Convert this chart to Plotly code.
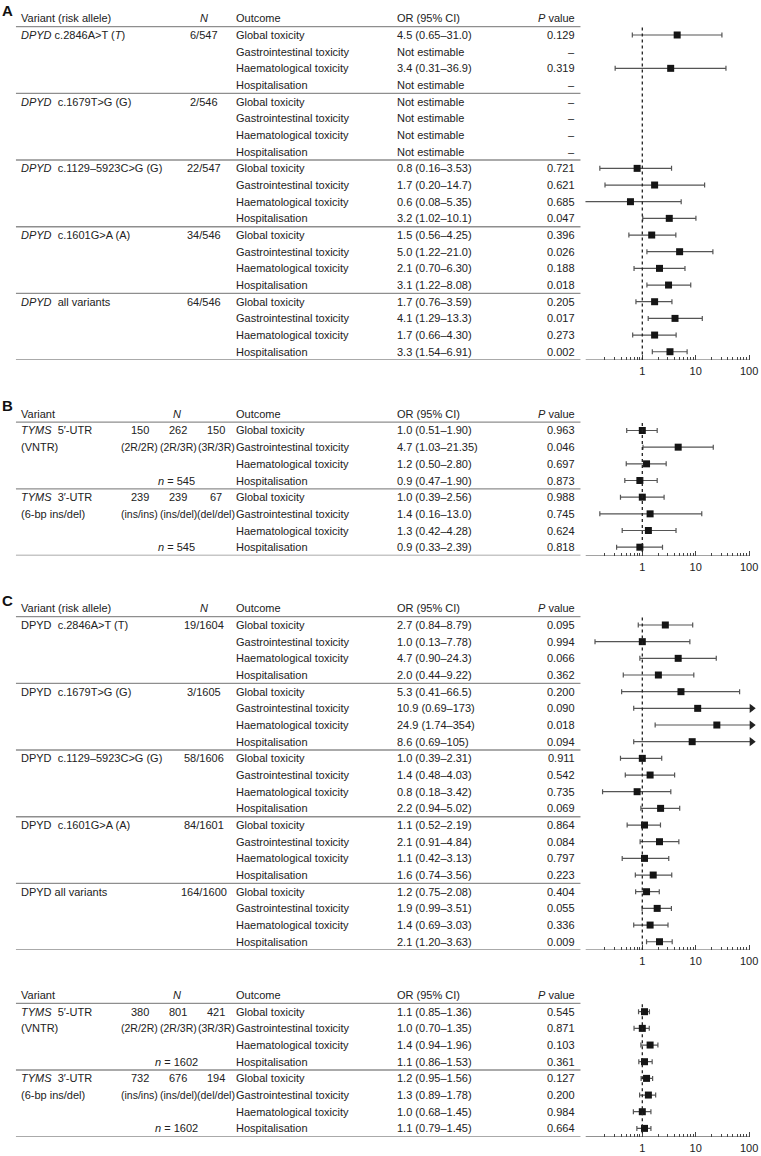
import plotly.graph_objects as go

W, H = 761, 1156
ROW_H = 16.67

OUTCOMES = ["Global toxicity", "Gastrointestinal toxicity",
            "Haematological toxicity", "Hospitalisation"]

# ---------------- Panel A ----------------
A_VARIANTS = ["<i>DPYD</i> c.2846A>T (<i>T</i>)",
              "<i>DPYD</i>\u00a0 c.1679T>G (G)",
              "<i>DPYD</i>\u00a0 c.1129\u20135923C>G (G)",
              "<i>DPYD</i>\u00a0 c.1601G>A (A)",
              "<i>DPYD</i>\u00a0 all variants"]
A_N = ["6/547", "2/546", "22/547", "34/546", "64/546"]
A_OR = ["4.5", None, "3.4", None,
        None, None, None, None,
        "0.8", "1.7", "0.6", "3.2",
        "1.5", "5.0", "2.1", "3.1",
        "1.7", "4.1", "1.7", "3.3"]
A_LO = ["0.65", None, "0.31", None,
        None, None, None, None,
        "0.16", "0.20", "0.08", "1.02",
        "0.56", "1.22", "0.70", "1.22",
        "0.76", "1.29", "0.66", "1.54"]
A_HI = ["31.0", None, "36.9", None,
        None, None, None, None,
        "3.53", "14.7", "5.35", "10.1",
        "4.25", "21.0", "6.30", "8.08",
        "3.59", "13.3", "4.30", "6.91"]
A_P = ["0.129", "\u2013", "0.319", "\u2013",
       "\u2013", "\u2013", "\u2013", "\u2013",
       "0.721", "0.621", "0.685", "0.047",
       "0.396", "0.026", "0.188", "0.018",
       "0.205", "0.017", "0.273", "0.002"]

# ---------------- Panel B ----------------
TYMS_VARIANTS = [["<i>TYMS</i>\u00a0 5\u2032-UTR", "(VNTR)"],
                 ["<i>TYMS</i>\u00a0 3\u2032-UTR", "(6-bp ins/del)"]]
GENOTYPES = [["(2R/2R)", "(2R/3R)", "(3R/3R)"],
             ["(ins/ins)", "(ins/del)", "(del/del)"]]
B_COUNTS = [["150", "262", "150"], ["239", "239", "67"]]
B_NTOTAL = ["545", "545"]
B_OR = ["1.0", "4.7", "1.2", "0.9", "1.0", "1.4", "1.3", "0.9"]
B_LO = ["0.51", "1.03", "0.50", "0.47", "0.39", "0.16", "0.42", "0.33"]
B_HI = ["1.90", "21.35", "2.80", "1.90", "2.56", "13.0", "4.28", "2.39"]
B_P = ["0.963", "0.046", "0.697", "0.873", "0.988", "0.745", "0.624", "0.818"]

# ---------------- Panel C ----------------
C_VARIANTS = ["DPYD\u00a0 c.2846A>T (T)",
              "DPYD\u00a0 c.1679T>G (G)",
              "DPYD\u00a0 c.1129\u20135923C>G (G)",
              "DPYD\u00a0 c.1601G>A (A)",
              "DPYD all variants"]
C_N = ["19/1604", "3/1605", "58/1606", "84/1601", "164/1600"]
C_OR = ["2.7", "1.0", "4.7", "2.0",
        "5.3", "10.9", "24.9", "8.6",
        "1.0", "1.4", "0.8", "2.2",
        "1.1", "2.1", "1.1", "1.6",
        "1.2", "1.9", "1.4", "2.1"]
C_LO = ["0.84", "0.13", "0.90", "0.44",
        "0.41", "0.69", "1.74", "0.69",
        "0.39", "0.48", "0.18", "0.94",
        "0.52", "0.91", "0.42", "0.74",
        "0.75", "0.99", "0.69", "1.20"]
C_HI = ["8.79", "7.78", "24.3", "9.22",
        "66.5", "173", "354", "105",
        "2.31", "4.03", "3.42", "5.02",
        "2.19", "4.84", "3.13", "3.56",
        "2.08", "3.51", "3.03", "3.63"]
C_P = ["0.095", "0.994", "0.066", "0.362",
       "0.200", "0.090", "0.018", "0.094",
       "0.911", "0.542", "0.735", "0.069",
       "0.864", "0.084", "0.797", "0.223",
       "0.404", "0.055", "0.336", "0.009"]

# ---------------- Panel D ----------------
D_COUNTS = [["380", "801", "421"], ["732", "676", "194"]]
D_NTOTAL = ["1602", "1602"]
D_OR = ["1.1", "1.0", "1.4", "1.1", "1.2", "1.3", "1.0", "1.1"]
D_LO = ["0.85", "0.70", "0.94", "0.86", "0.95", "0.89", "0.68", "0.79"]
D_HI = ["1.36", "1.35", "1.96", "1.53", "1.56", "1.78", "1.45", "1.45"]
D_P = ["0.545", "0.871", "0.103", "0.361", "0.127", "0.200", "0.984", "0.664"]

TICK_VALS = [1, 10, 100]
TICK_TEXT = ["1", "10", "100"]
MINOR_TICKS = [0.2, 0.3, 0.4, 0.5, 0.6, 0.7, 0.8, 0.9,
               2, 3, 4, 5, 6, 7, 8, 9,
               20, 30, 40, 50, 60, 70, 80, 90]
AXIS_END = 100
ARROW_X = 112

# ---------------- styling / geometry ----------------
FONT = "Liberation Sans, Arial, Helvetica, sans-serif"
TXT = "#222222"
LINE = "#8e8e8e"
X_TABLE0, X_TABLE1 = 16, 582
X_VAR, X_OUT, X_OR, X_P = 19, 235, 396, 579
X_N = 205
X_GENO = [140, 178.5, 217]
X_NTOT = 177
LOGMIN, LOGMAX = -1.065, 2.13
FX0, FX1 = 587, 758

layout = dict(width=W, height=H, margin=dict(l=0, r=0, t=0, b=0),
              paper_bgcolor="white", plot_bgcolor="white", showlegend=False)
shapes = []
annotations = []
traces = []


def txt(s, xpx, y, yref, anchor="left", size=11, color=TXT, yanchor="middle"):
    annotations.append(dict(text=s, x=xpx / W, xref="paper", y=y, yref=yref,
                            xanchor=anchor, yanchor=yanchor, showarrow=False,
                            font=dict(family=FONT, size=size, color=color)))


def hline(row, yref, width=1.4):
    shapes.append(dict(type="line", xref="paper", yref=yref,
                       x0=X_TABLE0 / W, x1=X_TABLE1 / W, y0=row, y1=row,
                       line=dict(color=LINE, width=width), layer="below"))


def panel(k, row0, ors, los, his, ps, header_var, n_header_x, left_cells):
    n = len(ors)
    ax = "" if k == 1 else str(k)
    yref, xref = "y" + ax, "x" + ax
    top = row0 - 1.6 * ROW_H
    bot = row0 + (n - 0.5) * ROW_H
    layout["yaxis" + ax] = dict(domain=[1 - bot / H, 1 - top / H],
                                range=[n - 0.5, -1.6], visible=False,
                                fixedrange=True)
    layout["xaxis" + ax] = dict(
        type="log", domain=[FX0 / W, FX1 / W], range=[LOGMIN, LOGMAX],
        anchor=yref, tickmode="array", tickvals=TICK_VALS, ticktext=TICK_TEXT,
        ticks="inside", ticklen=5, tickwidth=1, tickcolor="#444",
        showgrid=False, zeroline=False, showline=False, fixedrange=True,
        ticklabelstandoff=3,
        tickfont=dict(family=FONT, size=11, color=TXT),
        minor=dict(tickmode="array", tickvals=MINOR_TICKS, ticks="inside",
                   ticklen=3, tickwidth=1, tickcolor="#444", showgrid=False))

    # header
    txt(header_var, X_VAR, -1, yref)
    txt("<i>N</i>", n_header_x, -1, yref, anchor="center")
    txt("Outcome", X_OUT, -1, yref)
    txt("OR (95% CI)", X_OR, -1, yref)
    txt("<i>P</i> value", X_P, -1, yref, anchor="right")

    # table lines
    hline(-0.5, yref)
    for g in range(1, n // 4):
        hline(4 * g - 0.5, yref)
    hline(n - 0.5, yref)

    # left cells
    for (row, xpx, s, anchor, size) in left_cells:
        txt(s, xpx, row, yref, anchor=anchor, size=size)

    # rows
    for i in range(n):
        txt(OUTCOMES[i % 4], X_OUT, i, yref)
        if ors[i] is None:
            txt("Not estimable", X_OR, i, yref)
        else:
            txt(f"{ors[i]} ({los[i]}\u2013{his[i]})", X_OR, i, yref)
        txt(ps[i], X_P, i, yref, anchor="right")

    # reference line and axis line
    shapes.append(dict(type="line", xref=xref, yref=yref, x0=1, x1=1,
                       y0=-0.45, y1=n - 0.5,
                       line=dict(color="#222", width=1.3, dash="dot")))
    shapes.append(dict(type="line", xref=xref, yref=yref,
                       x0=10 ** LOGMIN, x1=AXIS_END * 1.03, y0=n - 0.5, y1=n - 0.5,
                       line=dict(color="#444", width=1)))

    # forest marks
    norm = [(i, float(ors[i]), float(los[i]), float(his[i]))
            for i in range(n) if ors[i] is not None and float(his[i]) <= AXIS_END]
    arr = [(i, float(ors[i]), float(los[i]), float(his[i]))
           for i in range(n) if ors[i] is not None and float(his[i]) > AXIS_END]
    eb = dict(type="data", symmetric=False, color="#555", thickness=1.2, width=2.5)
    if norm:
        traces.append(go.Scatter(
            x=[o for _, o, _, _ in norm], y=[i for i, _, _, _ in norm],
            xaxis=xref, yaxis=yref, mode="markers",
            marker=dict(symbol="square", size=7, color="#151515"),
            error_x=dict(eb, array=[h - o for _, o, _, h in norm],
                         arrayminus=[o - l for _, o, l, _ in norm]),
            hoverinfo="skip", cliponaxis=False))
    if arr:
        traces.append(go.Scatter(
            x=[o for _, o, _, _ in arr], y=[i for i, _, _, _ in arr],
            xaxis=xref, yaxis=yref, mode="markers",
            marker=dict(symbol="square", size=7, color="#151515"),
            error_x=dict(eb, array=[ARROW_X - o for _, o, _, _ in arr],
                         arrayminus=[o - l for _, o, l, _ in arr]),
            hoverinfo="skip", cliponaxis=False))
        traces.append(go.Scatter(
            x=[ARROW_X] * len(arr), y=[i for i, _, _, _ in arr],
            xaxis=xref, yaxis=yref, mode="markers",
            marker=dict(symbol="triangle-right", size=8, color="#222"),
            hoverinfo="skip", cliponaxis=False))


def dpyd_cells(variants, ns):
    cells = []
    for g, (v, nn) in enumerate(zip(variants, ns)):
        cells.append((4 * g, X_VAR, v, "left", 11))
        cells.append((4 * g, X_N, nn, "center", 11))
    return cells


def tyms_cells(counts, totals):
    cells = []
    for g in range(2):
        cells.append((4 * g, X_VAR, TYMS_VARIANTS[g][0], "left", 11))
        cells.append((4 * g + 1, X_VAR, TYMS_VARIANTS[g][1], "left", 11))
        for j in range(3):
            cells.append((4 * g, X_GENO[j], counts[g][j], "center", 11))
            cells.append((4 * g + 1, X_GENO[j], GENOTYPES[g][j], "center", 10.5))
        cells.append((4 * g + 3, X_NTOT, f"<i>n</i> = {totals[g]}", "center", 11))
    return cells


panel(1, 35.0, A_OR, A_LO, A_HI, A_P, "Variant (risk allele)", X_N,
      dpyd_cells(A_VARIANTS, A_N))
panel(2, 430.5, B_OR, B_LO, B_HI, B_P, "Variant", X_NTOT,
      tyms_cells(B_COUNTS, B_NTOTAL))
panel(3, 625.0, C_OR, C_LO, C_HI, C_P, "Variant (risk allele)", X_N,
      dpyd_cells(C_VARIANTS, C_N))
panel(4, 1011.7, D_OR, D_LO, D_HI, D_P, "Variant", X_NTOT,
      tyms_cells(D_COUNTS, D_NTOTAL))

# panel letters
for letter, ypx in [("A", 10), ("B", 406), ("C", 600)]:
    annotations.append(dict(text=f"<b>{letter}</b>", x=0 / W, xref="paper",
                            y=1 - ypx / H, yref="paper", xanchor="left",
                            yanchor="middle", showarrow=False,
                            font=dict(family=FONT, size=15, color="#111")))

layout["shapes"] = shapes
layout["annotations"] = annotations
fig = go.Figure(data=traces, layout=layout)
fig.write_html("out.html",
               config={"displayModeBar": False},
               post_script="document.body.style.margin='0';"
                           "document.body.style.overflow='hidden';")
